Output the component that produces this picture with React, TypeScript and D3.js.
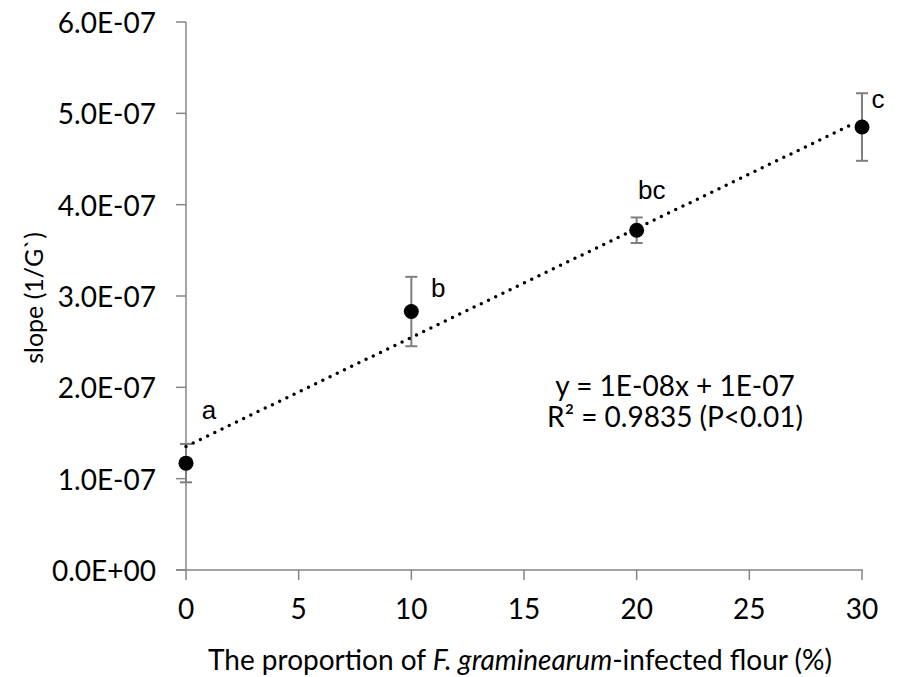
import React from "react";
import * as d3 from "d3";

const proportions = [0, 10, 20, 30];
const slopes = [1.17e-7, 2.83e-7, 3.72e-7, 4.85e-7];
const errors = [0.21e-7, 0.38e-7, 0.14e-7, 0.37e-7];
const letters = ["a", "b", "bc", "c"];
const xTicks = [0, 5, 10, 15, 20, 25, 30];
const yTicks = [0, 1e-7, 2e-7, 3e-7, 4e-7, 5e-7, 6e-7];
const equationLines = ["y = 1E-08x + 1E-07", "R² = 0.9835 (P<0.01)"];

const W = 902;
const H = 677;
const FONT = "Lato, 'Open Sans', sans-serif";
const AXIS = "#868686";

function fmtY(v: number) {
  if (v === 0) return "0.0E+00";
  const e = Math.floor(Math.log10(v) + 1e-9);
  const m = v / Math.pow(10, e);
  const es = e < 0 ? "-" + String(-e).padStart(2, "0") : "+" + String(e).padStart(2, "0");
  return m.toFixed(1) + "E" + es;
}

export default function App() {
  const x = d3.scaleLinear().domain([0, 30]).range([186, 862]);
  const y = d3.scaleLinear().domain([0, 6e-7]).range([570, 22]);

  // least-squares trendline
  const mx = d3.mean(proportions)!;
  const my = d3.mean(slopes)!;
  const num = d3.sum(proportions.map((p, i) => (p - mx) * (slopes[i] - my)));
  const den = d3.sum(proportions.map((p) => (p - mx) * (p - mx)));
  const b = num / den;
  const a = my - b * mx;
  const line = d3
    .line<number>()
    .x((d) => x(d))
    .y((d) => y(a + b * d));

  const labelOffsets = [
    [23, -53],
    [27, -24],
    [15, -40],
    [16, -28],
  ];

  return (
    <svg width={W} height={H} style={{ display: "block", position: "absolute", left: 0, top: 0 }}>
      <rect width={W} height={H} fill="#fff" />
      {/* y axis */}
      <line x1={x(0)} x2={x(0)} y1={y(6e-7)} y2={y(0)} stroke={AXIS} strokeWidth={1.5} />
      {yTicks.map((t) => (
        <g key={"y" + t}>
          <line x1={x(0) - 10} x2={x(0)} y1={y(t)} y2={y(t)} stroke={AXIS} strokeWidth={1.5} />
          <text
            x={156}
            y={y(t)}
            textAnchor="end"
            dominantBaseline="central"
            fontFamily={FONT}
            fontSize={28}
            fill="#000"
          >
            {fmtY(t)}
          </text>
        </g>
      ))}
      {/* x axis */}
      <line x1={x(0) - 10} x2={x(30) + 1} y1={y(0)} y2={y(0)} stroke={AXIS} strokeWidth={1.5} />
      {xTicks.map((t) => (
        <g key={"x" + t}>
          <line x1={x(t)} x2={x(t)} y1={y(0)} y2={y(0) + 10} stroke={AXIS} strokeWidth={1.5} />
          <text
            x={x(t)}
            y={608}
            textAnchor="middle"
            dominantBaseline="central"
            fontFamily={FONT}
            fontSize={28}
            fill="#000"
          >
            {t}
          </text>
        </g>
      ))}
      {/* error bars */}
      {proportions.map((p, i) => (
        <g key={"e" + i} stroke="#7f7f7f" strokeWidth={2}>
          <line x1={x(p)} x2={x(p)} y1={y(slopes[i] + errors[i])} y2={y(slopes[i] - errors[i])} />
          <line x1={x(p) - 6} x2={x(p) + 6} y1={y(slopes[i] + errors[i])} y2={y(slopes[i] + errors[i])} />
          <line x1={x(p) - 6} x2={x(p) + 6} y1={y(slopes[i] - errors[i])} y2={y(slopes[i] - errors[i])} />
        </g>
      ))}
      {/* trendline */}
      <path
        d={line([0, 29.7]) || ""}
        fill="none"
        stroke="#000"
        strokeWidth={3.5}
        strokeLinecap="round"
        strokeDasharray="0 8"
      />
      {/* points */}
      {proportions.map((p, i) => (
        <circle key={"c" + i} cx={x(p)} cy={y(slopes[i])} r={7.5} fill="#000" />
      ))}
      {/* letters */}
      {proportions.map((p, i) => (
        <text
          key={"l" + i}
          x={x(p) + labelOffsets[i][0]}
          y={y(slopes[i]) + labelOffsets[i][1]}
          textAnchor="middle"
          dominantBaseline="central"
          fontFamily="'Liberation Sans', Arial, sans-serif"
          fontSize={26}
          fill="#000"
        >
          {letters[i]}
        </text>
      ))}
      {/* equation */}
      {equationLines.map((s, i) => (
        <text
          key={"eq" + i}
          x={675}
          y={385 + i * 31}
          textAnchor="middle"
          dominantBaseline="central"
          fontFamily={FONT}
          fontSize={28}
          fill="#000"
        >
          {s}
        </text>
      ))}
      {/* axis titles */}
      <text
        transform={`translate(33,${y(3e-7) + 2}) rotate(-90)`}
        textAnchor="middle"
        dominantBaseline="central"
        fontFamily={FONT}
        fontSize={25}
        fill="#000"
      >
        slope (1/G`)
      </text>
      <text
        x={520}
        y={659}
        textAnchor="middle"
        dominantBaseline="central"
        fontFamily={FONT}
        fontSize={28}
        fill="#000"
      >
        The proportion of <tspan fontStyle="italic">F. graminearum</tspan>-infected flour (%)
      </text>
    </svg>
  );
}
